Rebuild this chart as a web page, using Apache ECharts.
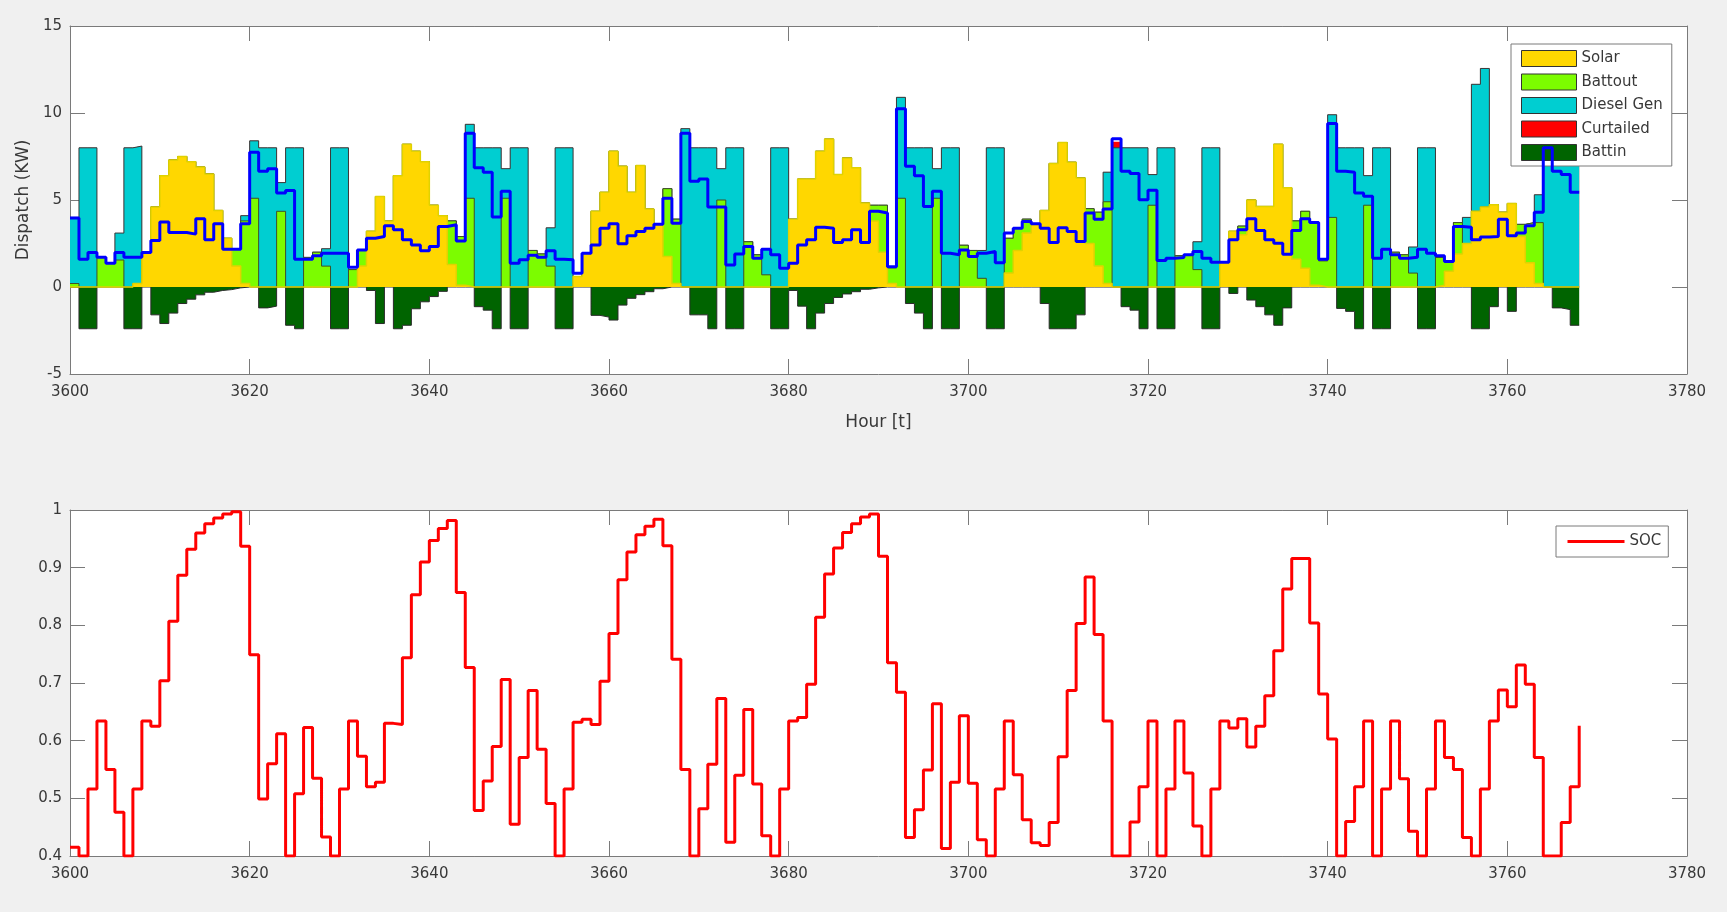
<!DOCTYPE html>
<html>
<head>
<meta charset="utf-8">
<script src="https://cdn.jsdelivr.net/npm/echarts/dist/echarts.min.js"></script>
<style>
html,body{margin:0;padding:0;background:#f0f0f0;}
#c{width:1727px;height:912px;}
</style>
</head>
<body>
<div id="c"></div>
<script>
// ---------- data (hourly, starting at hour 3600) ----------
const startHour = 3600;
const xTicks = {min: 3600, max: 3780, interval: 20};

const solar = [
  0,0,0,0,0,0,0,0.2,2.0,4.6,
  6.4,7.3,7.5,7.2,6.9,6.5,4.4,2.8,1.2,0.2,
  0,0,0,0,0,0,0,0,0,0,
  0,0,1.2,3.2,5.2,3.8,6.4,8.2,7.8,7.2,
  4.7,4.1,1.3,0.1,0,0,0,0,0,0,
  0,0,0,0,0,0,0.6,1.9,4.35,5.44,
  7.8,6.94,5.44,6.98,4.48,3.6,1.75,0.2,0,0,
  0,0,0,0,0,0,0,0,0,0,
  3.9,6.2,6.2,7.8,8.5,6.46,7.42,6.85,4.83,3.8,
  2.0,0.2,0,0,0,0,0,0,0,0,
  0,0,0,0,0.8,2.1,3.1,3.6,4.4,7.1,
  8.3,7.17,6.27,2.5,1.2,0.2,0,0,0,0,
  0,0,0,0,0,0,0,0,1.42,3.2,
  3.0,5.0,4.63,4.63,8.2,5.7,1.6,1.08,0.1,0,
  0,0,0,0,0,0,0,0,0,0,
  0,0,0.1,0.9,1.9,2.5,4.35,4.6,4.73,4.3,
  4.8,2.9,1.4,0.2,0,0,0,0
];
const battout = [
  0.2,0,0,1.7,1.4,1.55,0,0,0,0,
  0,0,0,0,0,0,0,0,1.0,3.6,
  5.1,0,0,4.35,0,0,1.7,2.0,1.2,0,
  0,1.0,0.9,0,0,0,0,0,0,0,
  0,0,2.5,2.8,5.1,0,0,0,5.1,0,
  0,2.1,1.9,1.2,0,0,0,0,0,0,
  0,0,0,0,0,0,3.9,3.7,0,0,
  0,0,5.0,0,0,2.6,1.85,0.7,0,0,
  0,0,0,0,0,0,0,0,0,0.9,
  2.7,0.9,5.1,0,0,0,5.1,0,0,2.4,
  2.1,0.5,0,0,2.0,1.3,0.8,0,0,0,
  0,0,0,2.0,3.1,4.7,0,0,0,0,
  4.7,0,0,1.8,1.9,1.0,0,0,0,0,
  0.5,0,0,0,0,0,2.2,3.27,3.6,1.5,
  4.0,0,0,0,4.7,0,0,2.0,1.85,0.8,
  0,0,1.6,0.6,1.8,0,0,0,0,0,
  0,0.7,2.3,3.5,0,0,0,0
];
const dieselGen = [
  3.8,8,8,0,0,1.55,8,7.9,0,0,
  0,0,0,0,0,0,0,0,0,0.3,
  3.3,8,8,1.65,8,8,0,0,1.0,8,
  8,0,0,0,0,0,0,0,0,0,
  0,0,0,0,4.25,8,8,8,1.7,8,
  8,0,0,2.2,8,8,0,0,0,0,
  0,0,0,0,0,0,0,0,9.1,8,
  8,8,1.8,8,8,0,0,1.5,8,8,
  0,0,0,0,0,0,0,0,0,0,
  0,0,5.8,8,8,8,1.7,8,8,0,
  0,1.6,8,8,0,0,0,0,0,0,
  0,0,0,0,0,1.7,8,8,8,8,
  1.76,8,8,0,0,1.6,8,8,0,0,
  0,0,0,0,0,0,0,0,0,0,
  5.9,8,8,8,1.7,8,8,0,0,1.5,
  8,8,0,0,0,1.5,7.3,7.96,0,0,
  0,0,0,1.6,9.2,8,8,8
];
const curtailed = [
  0,0,0,0,0,0,0,0,0,0,
  0,0,0,0,0,0,0,0,0,0,
  0,0,0,0,0,0,0,0,0,0,
  0,0,0,0,0,0,0,0,0,0,
  0,0,0,0,0,0,0,0,0,0,
  0,0,0,0,0,0,0,0,0,0,
  0,0,0,0,0,0,0,0,0,0,
  0,0,0,0,0,0,0,0,0,0,
  0,0,0,0,0,0,0,0,0,0,
  0,0,0,0,0,0,0,0,0,0,
  0,0,0,0,0,0,0,0,0,0,
  0,0,0,0,0,0,0.35,0,0,0,
  0,0,0,0,0,0,0,0,0,0,
  0,0,0,0,0,0,0,0,0,0,
  0,0,0,0,0,0,0,0,0,0,
  0,0,0,0,0,0,0,0,0,0,
  0,0,0,0,0,0,0,0
];
const battin = [
  0,-2.4,-2.4,0,0,0,-2.4,-2.4,0,-1.6,
  -2.1,-1.5,-0.95,-0.7,-0.45,-0.3,-0.2,-0.15,-0.05,0,
  0,-1.2,-1.1,0,-2.2,-2.4,0,0,0,-2.4,
  -2.4,0,0,-0.2,-2.1,0,-2.4,-2.2,-1.25,-0.85,
  -0.55,-0.25,0,0,0,-1.13,-1.33,-2.4,0,-2.4,
  -2.4,0,0,0,-2.4,-2.4,0,0,-1.63,-1.73,
  -1.9,-1.04,-0.65,-0.44,-0.27,-0.1,0,0,0,-1.6,
  -1.6,-2.4,0,-2.4,-2.4,0,0,0,-2.4,-2.4,
  -0.2,-1.1,-2.4,-1.5,-0.95,-0.6,-0.4,-0.27,-0.13,-0.05,
  0,0,0,-0.95,-1.5,-2.4,0,-2.4,-2.4,0,
  0,0,-2.4,-2.4,0,0,0,0,-0.95,-2.4,
  -2.4,-2.4,-1.6,0,0,0,0,-1.13,-1.33,-2.4,
  0,-2.4,-2.4,0,0,0,-2.4,-2.4,0,-0.37,
  0,-0.75,-1.13,-1.6,-2.2,-1.2,0,0,0,0,
  0,-1.23,-1.4,-2.4,0,-2.4,-2.4,0,0,0,
  -2.4,-2.4,0,0,0,0,-2.4,-2.4,-1.13,0,
  -1.4,0,0,0,0,-1.2,-1.3,-2.2
];
const load = [
  3.96,1.6,1.98,1.71,1.37,1.98,1.71,1.71,1.98,2.67,
  3.73,3.13,3.13,3.04,3.92,2.71,3.63,2.17,2.17,3.63,
  7.75,6.65,6.79,5.4,5.54,1.6,1.6,1.8,1.94,1.94,
  1.94,1.13,2.13,2.8,2.9,3.52,3.29,2.71,2.42,2.08,
  2.33,3.48,3.58,2.65,8.83,6.85,6.6,4.02,5.5,1.37,
  1.56,1.83,1.71,2.08,1.6,1.56,0.79,1.94,2.42,3.38,
  3.63,2.48,2.94,3.19,3.38,3.6,5.1,3.67,8.83,6.08,
  6.2,4.6,4.6,1.27,1.9,2.33,1.65,2.17,1.85,1.08,
  1.37,2.42,2.71,3.44,3.38,2.56,2.71,3.29,2.56,4.35,
  4.25,1.17,10.25,6.94,6.4,4.63,5.5,1.94,1.85,2.13,
  1.75,1.94,2.04,1.4,3.1,3.38,3.77,3.63,3.38,2.56,
  3.4,3.19,2.62,4.25,3.9,4.48,8.52,6.65,6.52,5.02,
  5.56,1.52,1.65,1.69,1.85,2.04,1.65,1.42,1.42,2.71,
  3.29,3.92,3.25,2.71,2.52,1.88,3.25,3.92,3.7,1.6,
  9.4,6.65,6.6,5.4,5.21,1.65,2.17,1.85,1.65,1.71,
  2.17,1.94,1.79,1.46,3.48,3.44,2.71,2.87,2.9,3.9,
  2.94,3.1,3.52,4.29,8.0,6.65,6.46,5.44
];
const soc = [
  0.415,0.40,0.516,0.634,0.55,0.476,0.40,0.516,0.634,0.625,
  0.704,0.807,0.887,0.932,0.96,0.976,0.986,0.993,0.997,0.937,
  0.749,0.499,0.56,0.612,0.40,0.508,0.623,0.535,0.433,0.40,
  0.516,0.634,0.573,0.52,0.528,0.63,0.628,0.744,0.853,0.91,
  0.947,0.968,0.982,0.857,0.727,0.479,0.53,0.59,0.706,0.455,
  0.571,0.687,0.585,0.491,0.40,0.516,0.632,0.637,0.628,0.703,
  0.786,0.879,0.927,0.957,0.972,0.984,0.938,0.741,0.55,0.40,
  0.482,0.559,0.673,0.424,0.54,0.654,0.525,0.435,0.40,0.516,
  0.634,0.64,0.698,0.814,0.889,0.934,0.961,0.976,0.988,0.993,
  0.92,0.735,0.684,0.432,0.48,0.549,0.664,0.413,0.528,0.643,
  0.526,0.428,0.40,0.516,0.634,0.541,0.463,0.423,0.418,0.458,
  0.572,0.687,0.803,0.884,0.784,0.634,0.40,0.40,0.459,0.52,
  0.634,0.40,0.516,0.634,0.544,0.452,0.40,0.516,0.634,0.622,
  0.638,0.589,0.625,0.678,0.756,0.863,0.916,0.916,0.804,0.681,
  0.603,0.40,0.46,0.52,0.634,0.40,0.516,0.634,0.534,0.443,
  0.40,0.516,0.634,0.571,0.55,0.432,0.40,0.516,0.634,0.688,
  0.659,0.731,0.698,0.571,0.40,0.40,0.458,0.52,0.626
];

// ---------- build ----------
const FONT = "'DejaVu Sans', sans-serif";
const TXT = '#383838';
const AX = '#7a7a7a';

function steps(vals, extend) {
  const d = vals.map((v, i) => [startHour + i, v]);
  if (extend) d.push([startHour + vals.length, vals[vals.length - 1]]);
  return d;
}
// cumulative stacks (drawn back to front, each filled down to 0)
const cumSolar = solar.slice();
const cumBattout = solar.map((v, i) => v + battout[i]);
const cumDiesel = cumBattout.map((v, i) => v + dieselGen[i]);
const cumCurt = cumDiesel.map((v, i) => v + curtailed[i]);

const colors = {Solar: '#ffd700', Battout: '#7cfc00', 'Diesel Gen': '#00ced1', Curtailed: '#ff0000', Battin: '#006400'};

function areaSeries(name, vals, edge, edgeW, z) {
  return {
    name, type: 'line', xAxisIndex: 0, yAxisIndex: 0, data: steps(vals, true), step: 'end',
    symbol: 'none', showSymbol: false, silent: true, z,
    itemStyle: {color: colors[name]},
    lineStyle: {color: edge, width: edgeW, opacity: edgeW > 0 ? 1 : 0},
    areaStyle: {color: colors[name], opacity: 1}
  };
}

function xAx(grid, pos) {
  return {
    type: 'value', gridIndex: grid, position: pos, min: xTicks.min, max: xTicks.max, interval: xTicks.interval,
    axisLine: {show: true, onZero: false, lineStyle: {color: AX, width: 1}},
    axisTick: {show: true, inside: true, length: 15, lineStyle: {color: AX}},
    axisLabel: {show: pos === 'bottom', color: TXT, fontSize: 15, fontFamily: FONT, margin: 11,
      formatter: v => String(v)},
    splitLine: {show: false}
  };
}
function yAx(grid, pos, min, max, interval) {
  return {
    type: 'value', gridIndex: grid, position: pos, min, max, interval,
    axisLine: {show: true, onZero: false, lineStyle: {color: AX, width: 1}},
    axisTick: {show: true, inside: true, length: 15, lineStyle: {color: AX}},
    axisLabel: {show: pos === 'left', color: TXT, fontSize: 15, fontFamily: FONT, margin: 8,
      formatter: v => String(Math.round(v * 10) / 10)},
    splitLine: {show: false}
  };
}

const xAxes = [xAx(0, 'bottom'), xAx(0, 'top'), xAx(1, 'bottom'), xAx(1, 'top')];
xAxes[0].name = 'Hour [t]';
xAxes[0].nameLocation = 'middle';
xAxes[0].nameGap = 40;
xAxes[0].nameTextStyle = {fontSize: 17, color: TXT, fontFamily: FONT};

const yAxes = [yAx(0, 'left', -5, 15, 5), yAx(0, 'right', -5, 15, 5), yAx(1, 'left', 0.4, 1, 0.1), yAx(1, 'right', 0.4, 1, 0.1)];
yAxes[0].name = 'Dispatch (KW)';
yAxes[0].nameLocation = 'middle';
yAxes[0].nameGap = 34;
yAxes[0].nameTextStyle = {fontSize: 17, color: TXT, fontFamily: FONT};

const legendNames = ['Solar', 'Battout', 'Diesel Gen', 'Curtailed', 'Battin'];

const option = {
  animation: false,
  backgroundColor: '#f0f0f0',
  textStyle: {fontFamily: FONT},
  grid: [
    {left: 70, top: 26, width: 1617, height: 348, show: true, backgroundColor: '#ffffff', borderWidth: 0, containLabel: false, outerBoundsMode: 'none'},
    {left: 70, top: 510, width: 1617, height: 346, show: true, backgroundColor: '#ffffff', borderWidth: 0, containLabel: false, outerBoundsMode: 'none'}
  ],
  xAxis: xAxes,
  yAxis: yAxes,
  legend: [
    {
      data: legendNames.map(n => ({name: n, icon: 'rect', itemStyle: {color: colors[n], borderColor: '#333', borderWidth: 1}})),
      orient: 'vertical', left: 1511, top: 44,
      itemWidth: 55, itemHeight: 16, itemGap: 6.5,
      padding: [6, 9, 5, 10],
      backgroundColor: '#ffffff', borderColor: '#7a7a7a', borderWidth: 1, borderRadius: 0,
      textStyle: {fontSize: 15, color: TXT, fontFamily: FONT},
      selectedMode: false
    },
    {
      data: [{name: 'SOC', itemStyle: {opacity: 0}}],
      orient: 'horizontal', left: 1556, top: 526,
      itemWidth: 57, itemHeight: 14,
      padding: [8, 7, 8, 10],
      lineStyle: {width: 3, color: '#ff0000'},
      backgroundColor: '#ffffff', borderColor: '#7a7a7a', borderWidth: 1, borderRadius: 0,
      textStyle: {fontSize: 15, color: TXT, fontFamily: FONT},
      selectedMode: false
    }
  ],
  series: [
    areaSeries('Curtailed', cumCurt, '#ff0000', 0, 2),
    areaSeries('Diesel Gen', cumDiesel, '#3a3a3a', 1, 3),
    areaSeries('Battout', cumBattout, '#3f4f2a', 1, 4),
    areaSeries('Solar', cumSolar, '#e0d200', 1.5, 5),
    areaSeries('Battin', battin, '#2a2a2a', 1, 3),
    {
      name: 'Load', type: 'line', xAxisIndex: 0, yAxisIndex: 0, data: steps(load, true), step: 'end',
      symbol: 'none', showSymbol: false, silent: true, z: 10,
      itemStyle: {color: '#0000ff'}, lineStyle: {color: '#0000ff', width: 3}
    },
    {
      name: 'SOC', type: 'line', xAxisIndex: 2, yAxisIndex: 2, data: steps(soc, false), step: 'end',
      symbol: 'none', showSymbol: false, silent: true, z: 10,
      itemStyle: {color: '#ff0000'}, lineStyle: {color: '#ff0000', width: 3}
    }
  ]
};

const chart = echarts.init(document.getElementById('c'), null, {renderer: 'canvas'});
chart.setOption(option);
</script>
</body>
</html>
